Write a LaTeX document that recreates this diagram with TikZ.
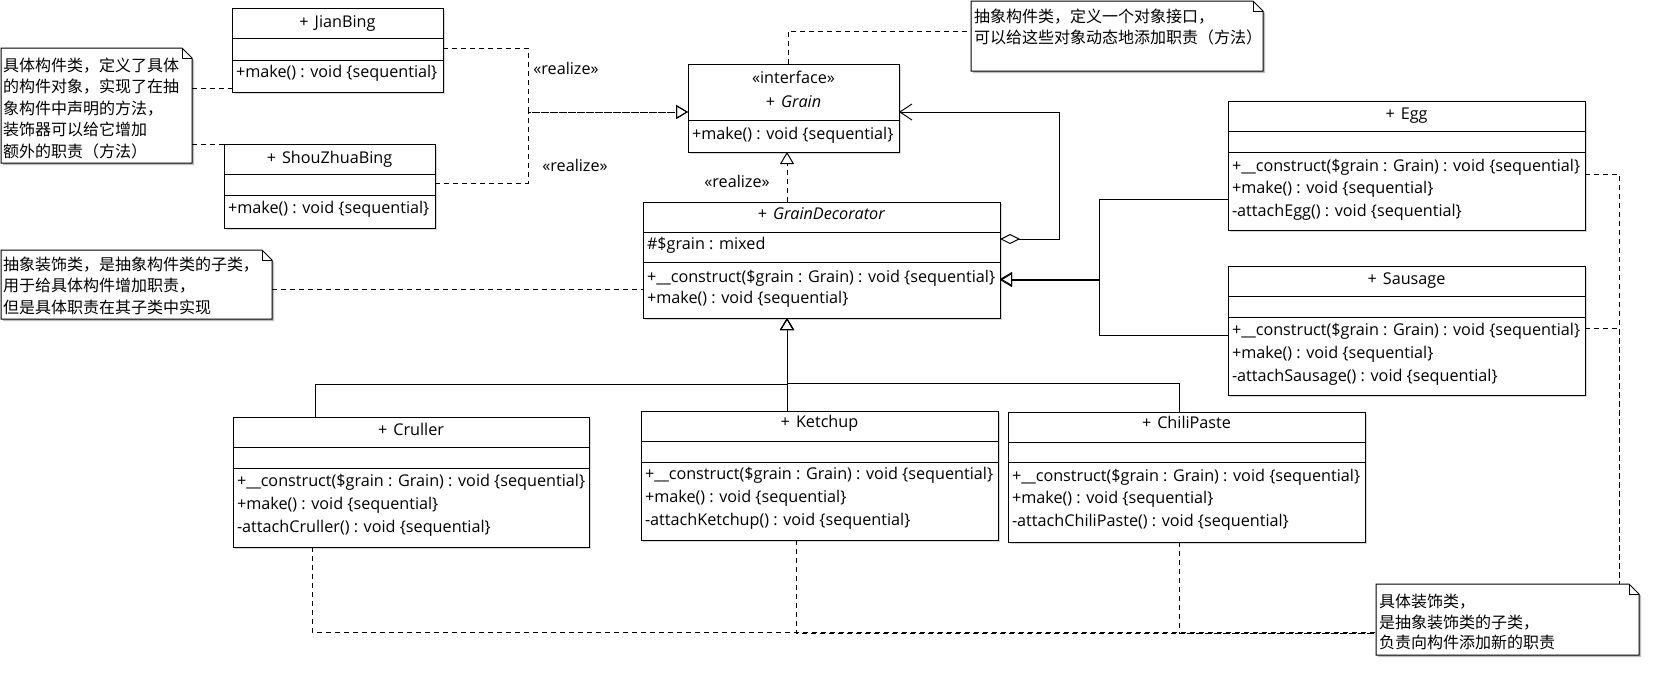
\documentclass[tikz,border=0pt]{standalone}
\usepackage{fontspec}
\setmainfont{Open Sans}
\newfontfamily\cjk{Noto Sans CJK SC}
\usetikzlibrary{arrows.meta,fit,shadows}

% class box: name, x1, y1, x2, y2, bottom of name compartment
\newcommand\umlclass[6]{%
  \node[classbox, fit={(#2,#3) (#4,#5)}] (#1) {};
  \draw (#2,#6) -- (#4,#6);
}
% note with folded corner: name, x1, y1, x2, y2
\newcommand\umlnote[5]{%
  \node[fit={(#2,#3) (#4,#5)}] (#1) {};
  \fill[black!25] (#2+2,#3+2) -- (#4+2-10,#3+2) -- (#4+2,#3+12) -- (#4+2,#5+2) -- (#2+2,#5+2) -- cycle;
  \draw[fill=white] (#2,#3) -- (#4-10,#3) -- (#4,#3+10) -- (#4,#5) -- (#2,#5) -- cycle;
  \draw (#4-10,#3) -- (#4-10,#3+10) -- (#4,#3+10);
}
\newcommand\pl{+\hspace{6pt}}
\newcommand\seq{void \{sequential\}}

\begin{document}
\begin{tikzpicture}[x=1pt,y=-1pt,
  line width=1pt,
  every node/.style={inner sep=0pt, outer sep=0pt},
  txt/.style={font=\fontsize{16.2}{19}\selectfont, text height=11pt, text depth=0pt},
  row/.style={txt, anchor=west},
  notetxt/.style={font=\cjk\fontsize{16}{19}\selectfont, anchor=west, text height=12pt, text depth=0pt},
  classbox/.style={draw, fill=white, drop shadow={shadow xshift=1.5pt, shadow yshift=-1.5pt, fill=black!30}},
  dashline/.style={dash pattern=on 5pt off 4pt},
  realize/.style={dashline, -{Triangle[open, length=12pt, width=14pt]}},
  gen/.style={-{Triangle[open, length=12pt, width=14pt]}},
  aggr/.style={{Diamond[open, length=20pt, width=10pt]}-{Straight Barb[length=12pt, width=16pt]}},
]
\fill[white] (0,0) rectangle (1678,694);
\useasboundingbox (0,0) rectangle (1678,694);

% ---------- classes ----------
\umlclass{jian}{232}{8}{443}{92}{38}
\draw (232,60) -- (443,60);
\node[txt] (jian-t) at (337.5,22) {\pl JianBing};
\node[row] (jian-o1) at (236,72) {+make() : \seq};

\umlclass{shou}{224}{144}{435}{228}{174}
\draw (224,195) -- (435,195);
\node[txt] (shou-t) at (329.5,158) {\pl ShouZhuaBing};
\node[row] (shou-o1) at (228,208) {+make() : \seq};

\umlclass{grain}{688}{64}{899}{152}{120}
\node[txt] (grain-s) at (793.5,78) {«interface»};
\node[txt] (grain-t) at (793.5,102) {\pl\textit{Grain}};
\node[row] (grain-o1) at (692,134) {+make() : \seq};

\umlclass{dec}{643}{202}{1000}{318}{232}
\draw (643,262) -- (1000,262);
\node[txt] (dec-t) at (821.5,214) {\pl\textit{GrainDecorator}};
\node[row] (dec-a1) at (647,244) {\#\$grain : mixed};
\node[row] (dec-o1) at (647,277) {+\_\_construct(\$grain : Grain) : \seq};
\node[row] (dec-o2) at (647,298) {+make() : \seq};

\umlclass{egg}{1228}{101}{1585}{230}{131}
\draw (1228,152) -- (1585,152);
\node[txt] (egg-t) at (1406.5,114) {\pl Egg};
\node[row] (egg-o1) at (1232,166) {+\_\_construct(\$grain : Grain) : \seq};
\node[row] (egg-o2) at (1232,188) {+make() : \seq};
\node[row] (egg-o3) at (1232,211) {-attachEgg() : \seq};

\umlclass{sau}{1228}{266}{1585}{395}{296}
\draw (1228,317) -- (1585,317);
\node[txt] (sau-t) at (1406.5,279) {\pl Sausage};
\node[row] (sau-o1) at (1232,330) {+\_\_construct(\$grain : Grain) : \seq};
\node[row] (sau-o2) at (1232,353) {+make() : \seq};
\node[row] (sau-o3) at (1232,376) {-attachSausage() : \seq};

\umlclass{cru}{233}{417}{589}{547}{447}
\draw (233,468) -- (589,468);
\node[txt] (cru-t) at (411,430) {\pl Cruller};
\node[row] (cru-o1) at (237,481) {+\_\_construct(\$grain : Grain) : \seq};
\node[row] (cru-o2) at (237,504) {+make() : \seq};
\node[row] (cru-o3) at (237,527) {-attachCruller() : \seq};

\umlclass{ket}{641}{411}{998}{540}{441}
\draw (641,462) -- (998,462);
\node[txt] (ket-t) at (819.5,422) {\pl Ketchup};
\node[row] (ket-o1) at (645,474) {+\_\_construct(\$grain : Grain) : \seq};
\node[row] (ket-o2) at (645,497) {+make() : \seq};
\node[row] (ket-o3) at (645,520) {-attachKetchup() : \seq};

\umlclass{chi}{1008}{412}{1365}{542}{442}
\draw (1008,462) -- (1365,462);
\node[txt] (chi-t) at (1186.5,423) {\pl ChiliPaste};
\node[row] (chi-o1) at (1012,476) {+\_\_construct(\$grain : Grain) : \seq};
\node[row] (chi-o2) at (1012,498) {+make() : \seq};
\node[row] (chi-o3) at (1012,521) {-attachChiliPaste() : \seq};

% ---------- notes ----------
\umlnote{n1}{1}{48}{192}{163}
\node[notetxt] (n1-l1) at (3,65)    {具体构件类，定义了具体};
\node[notetxt] (n1-l2) at (3,86.5)  {的构件对象，实现了在抽};
\node[notetxt] (n1-l3) at (3,108)   {象构件中声明的方法，};
\node[notetxt] (n1-l4) at (3,129.5) {装饰器可以给它增加};
\node[notetxt] (n1-l5) at (3,151)   {额外的职责（方法）};

\umlnote{n2}{971}{1}{1263}{71}
\node[notetxt] (n2-l1) at (974,16) {抽象构件类，定义一个对象接口，};
\node[notetxt] (n2-l2) at (974,37) {可以给这些对象动态地添加职责（方法）};

\umlnote{n3}{1}{250}{272}{319}
\node[notetxt] (n3-l1) at (3,264)   {抽象装饰类，是抽象构件类的子类，};
\node[notetxt] (n3-l2) at (3,285.5) {用于给具体构件增加职责，};
\node[notetxt] (n3-l3) at (3,307)   {但是具体职责在其子类中实现};

\umlnote{n4}{1376}{584}{1639}{655}
\node[notetxt] (n4-l1) at (1379,601) {具体装饰类，};
\node[notetxt] (n4-l2) at (1379,622) {是抽象装饰类的子类，};
\node[notetxt] (n4-l3) at (1379,642) {负责向构件添加新的职责};

% ---------- realizations of Grain ----------
\coordinate (rj) at (528,112);
\draw[realize] (jian.east |- 0,48) -| (rj) -- (grain.west |- rj);
\draw[realize] (shou.east |- 0,183) -| (rj) -- (grain.west |- rj);
\node[txt] (r1) at (566,69) {«realize»};
\node[txt] (r2) at (575,166) {«realize»};
\node[txt] (r3) at (737,182) {«realize»};
\draw[realize] (dec.north -| 787,0) -- (grain.south -| 787,0);

% ---------- aggregation ----------
\coordinate (ag) at (1059,112);
\draw[aggr] (dec.east |- 0,239) -| (ag) -- (grain.east |- ag);

% ---------- generalizations ----------
\coordinate (ge1) at (1099,279);
\coordinate (ge2) at (1099,280);
\draw[gen] (egg.west |- 0,199) -| (ge1) -- (dec.east |- ge1);
\draw[gen] (sau.west |- 0,335) -| (ge2) -- (dec.east |- ge2);
\coordinate (gb1) at (787,384);
\coordinate (gb2) at (787,383);
\draw[gen] (cru.north -| 315,0) |- (gb1) -- (dec.south -| gb1);
\draw[gen] (ket.north -| 787,0) -- (dec.south -| 787,0);
\draw[gen] (chi.north -| 1179,0) |- (gb2) -- (dec.south -| gb2);

% ---------- note links ----------
\draw[dashline] (n1.east |- 0,88) -- (jian.west |- 0,88);
\draw[dashline] (n1.east |- 0,144) -- (shou.north west);
\draw[dashline] (grain.north -| 788,0) |- (n2.west |- 0,31);
\draw[dashline] (n3.east |- 0,289) -- (dec.west |- 0,289);
\draw[dashline] (cru.south -| 312,0) |- (n4.west |- 0,632);
\draw[dashline] (ket.south -| 796,0) |- (n4.west |- 0,633);
\draw[dashline] (chi.south -| 1179,0) |- (n4.west |- 0,633);
\draw[dashline] (egg.east |- 0,174) -| (n4.north -| 1619,0);
\draw[dashline] (sau.east |- 0,328) -| (n4.north -| 1619,0);
\end{tikzpicture}
\end{document}
